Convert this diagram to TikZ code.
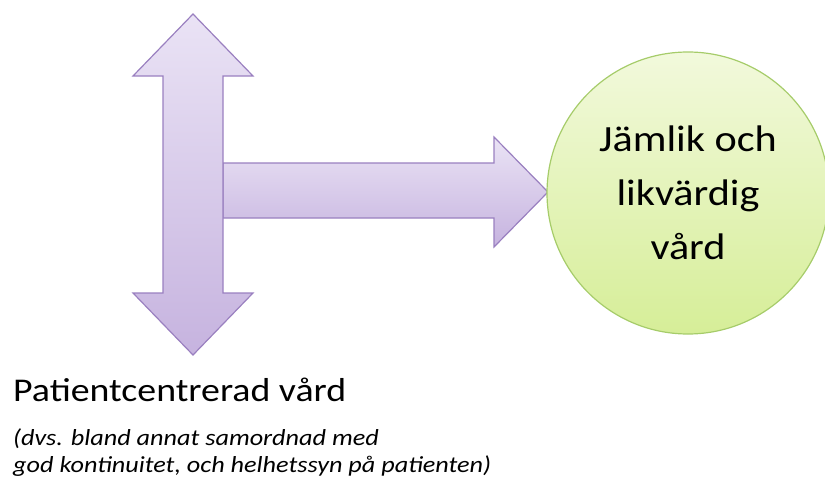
\documentclass[tikz,border=0pt]{standalone}
\usepackage{fontspec}
\setmainfont{Carlito}[FakeStretch=1.14]
\definecolor{arrtop}{HTML}{EAE3F5}
\definecolor{arrbot}{HTML}{C6B3DF}
\definecolor{arrline}{HTML}{9A80C0}
\definecolor{circtop}{HTML}{F2F9DC}
\definecolor{circbot}{HTML}{D6EE98}
\definecolor{circline}{HTML}{A6CC6A}
\begin{document}
\begin{tikzpicture}[x=1pt,y=-1pt,
  arrowshape/.style={draw=arrline,line width=1.2pt,line join=miter,top color=arrtop,bottom color=arrbot},
  bigcircle/.style={circle,draw=circline,line width=1.2pt,top color=circtop,bottom color=circbot,minimum size=282pt,inner sep=0pt,align=center,font=\fontsize{37}{54}\selectfont},
  lbl/.style={anchor=west,inner sep=0pt}]
\useasboundingbox (0,0) rectangle (825,479);
% horizontal arrow
\path[arrowshape] (223,163) -- (494,163) -- (494,137) -- (548,192) -- (494,247) -- (494,218) -- (223,218) -- cycle;
% vertical double arrow
\path[arrowshape] (193,14) -- (253,76) -- (223,76) -- (223,293) -- (253,293) -- (193,355) -- (133,293) -- (163,293) -- (163,76) -- (133,76) -- cycle;
% circle
\node[bigcircle] (goal) at (688,193) {Jämlik och\\likvärdig\\vård};
% labels
\node[lbl,font=\fontsize{33.2}{36}\selectfont] (title) at (13,390) {Patientcentrerad vård};
\node[lbl,font=\fontsize{23}{26.5}\selectfont\itshape,align=left,anchor=north west] (sub) at (13,429) {(dvs. bland annat samordnad med\\god kontinuitet, och helhetssyn på patienten)};
\end{tikzpicture}
\end{document}
